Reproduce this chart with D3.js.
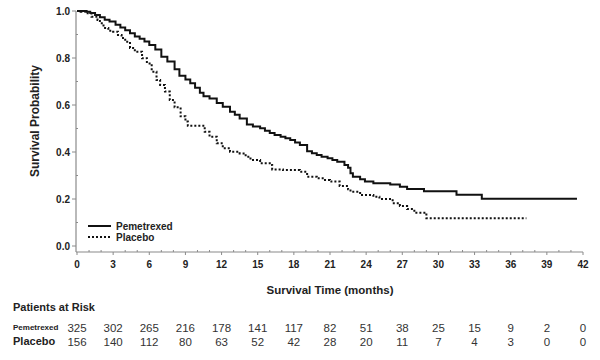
<!DOCTYPE html>
<html>
<head>
<meta charset="utf-8">
<script src="https://cdn.jsdelivr.net/npm/d3@7/dist/d3.min.js"></script>
<style>
  html, body { margin: 0; padding: 0; background: #fff; }
  svg { display: block; font-family: "Liberation Sans", Arial, sans-serif; }
</style>
</head>
<body>
<svg id="chart" width="600" height="360"></svg>
<script>
// ---- Data ----
const seriesNames = ["Pemetrexed", "Placebo"];

const pemTime = [0, 0.8, 1.1, 1.5, 1.9, 2.3, 2.7, 3.2, 3.6, 4.0, 4.4, 4.8, 5.2, 5.6, 6.0, 6.5, 7.0, 7.5, 8.1, 8.5, 9.0, 9.4, 9.8, 10.2, 10.5, 11.0, 11.6, 12.1, 12.7, 13.1, 13.5, 14.1, 14.6, 15.2, 15.6, 16.0, 16.4, 16.9, 17.3, 17.7, 18.1, 18.5, 19.1, 19.5, 19.9, 20.3, 20.8, 21.2, 21.6, 22.2, 22.5, 22.7, 22.9, 23.5, 23.9, 24.6, 26.0, 26.8, 27.4, 28.8, 31.5, 33.6, 41.5];
const pemSurv = [1.0, 0.997, 0.992, 0.983, 0.973, 0.963, 0.955, 0.942, 0.930, 0.918, 0.905, 0.892, 0.882, 0.870, 0.855, 0.836, 0.805, 0.785, 0.752, 0.725, 0.708, 0.693, 0.673, 0.652, 0.637, 0.628, 0.609, 0.593, 0.571, 0.558, 0.543, 0.517, 0.508, 0.501, 0.490, 0.481, 0.472, 0.465, 0.458, 0.451, 0.440, 0.430, 0.403, 0.395, 0.387, 0.380, 0.373, 0.366, 0.359, 0.345, 0.333, 0.310, 0.295, 0.284, 0.274, 0.267, 0.262, 0.252, 0.243, 0.233, 0.218, 0.201, 0.201];

const plaTime = [0, 0.3, 0.7, 1.2, 1.7, 1.9, 2.2, 2.6, 3.0, 3.4, 3.7, 4.0, 4.4, 4.8, 5.4, 5.8, 6.2, 6.6, 6.9, 7.3, 7.7, 8.1, 8.6, 9.0, 9.2, 10.2, 10.6, 11.0, 11.6, 12.1, 12.7, 13.5, 14.0, 14.4, 15.2, 16.0, 16.2, 17.1, 18.5, 19.1, 19.9, 20.5, 21.0, 21.8, 22.5, 22.7, 23.5, 24.6, 25.1, 26.2, 26.8, 27.4, 28.0, 29.0, 37.3];
const plaSurv = [1.0, 0.997, 0.990, 0.976, 0.962, 0.948, 0.928, 0.916, 0.912, 0.898, 0.885, 0.869, 0.843, 0.827, 0.799, 0.777, 0.742, 0.706, 0.685, 0.657, 0.621, 0.590, 0.552, 0.530, 0.512, 0.512, 0.486, 0.465, 0.437, 0.416, 0.401, 0.394, 0.380, 0.366, 0.352, 0.345, 0.326, 0.323, 0.316, 0.295, 0.288, 0.281, 0.274, 0.255, 0.241, 0.231, 0.217, 0.210, 0.200, 0.182, 0.170, 0.157, 0.142, 0.118, 0.118];

const xTicks = [0, 3, 6, 9, 12, 15, 18, 21, 24, 27, 30, 33, 36, 39, 42];
const xMinorTicks = [1, 2, 4, 5, 7, 8, 10, 11, 13, 14, 16, 17, 19, 20, 22, 23, 25, 26, 28, 29, 31, 32, 34, 35, 37, 38, 40, 41];
const yTicks = [0.0, 0.2, 0.4, 0.6, 0.8, 1.0];
const yMinorTicks = [0.1, 0.3, 0.5, 0.7, 0.9];

const pemRisk = [325, 302, 265, 216, 178, 141, 117, 82, 51, 38, 25, 15, 9, 2, 0];
const plaRisk = [156, 140, 112, 80, 63, 52, 42, 28, 20, 11, 7, 4, 3, 0, 0];

// ---- Layout ----
const svg = d3.select("#chart");
const x = d3.scaleLinear().domain([0, 42]).range([77, 583]);
const y = d3.scaleLinear().domain([0, 1]).range([246, 11]);
const axisColor = "#8a8a8a";
const axisY = 252;     // x-axis line position (offset below 0.0)
const axisX = 76;      // y-axis line position

const g = svg.append("g");

// y axis line
g.append("line").attr("x1", axisX).attr("x2", axisX).attr("y1", y(1)).attr("y2", axisY)
  .attr("stroke", axisColor).attr("stroke-width", 1.2);
// x axis line
g.append("line").attr("x1", axisX).attr("x2", x(42)).attr("y1", axisY).attr("y2", axisY)
  .attr("stroke", axisColor).attr("stroke-width", 1.2);

// y major ticks
g.selectAll(".ytick").data(yTicks).join("line")
  .attr("x1", axisX - 4).attr("x2", axisX)
  .attr("y1", d => y(d)).attr("y2", d => y(d))
  .attr("stroke", axisColor).attr("stroke-width", 1);
g.selectAll(".yminor").data(yMinorTicks).join("line")
  .attr("x1", axisX).attr("x2", axisX + 2)
  .attr("y1", d => y(d)).attr("y2", d => y(d))
  .attr("stroke", axisColor).attr("stroke-width", 1);
g.selectAll(".ylab").data(yTicks).join("text")
  .attr("x", 70).attr("y", d => y(d)).attr("dy", "0.36em")
  .attr("text-anchor", "end").attr("font-size", 10).attr("font-weight", "bold")
  .attr("fill", "#222")
  .text(d => d.toFixed(1));

// x ticks
g.selectAll(".xtick").data(xTicks).join("line")
  .attr("x1", d => x(d)).attr("x2", d => x(d))
  .attr("y1", axisY).attr("y2", axisY + 3)
  .attr("stroke", axisColor).attr("stroke-width", 1);
g.selectAll(".xminor").data(xMinorTicks).join("line")
  .attr("x1", d => x(d)).attr("x2", d => x(d))
  .attr("y1", axisY - 2).attr("y2", axisY)
  .attr("stroke", axisColor).attr("stroke-width", 1);
g.selectAll(".xlab").data(xTicks).join("text")
  .attr("x", d => x(d)).attr("y", 268)
  .attr("text-anchor", "middle").attr("font-size", 10).attr("font-weight", "bold")
  .attr("fill", "#222")
  .text(d => d);

// axis titles
svg.append("text").attr("x", (x(0) + x(42)) / 2).attr("y", 294)
  .attr("text-anchor", "middle").attr("font-size", 11.5).attr("font-weight", "bold")
  .attr("fill", "#222").text("Survival Time (months)");
svg.append("text").attr("transform", "translate(39,121) rotate(-90)")
  .attr("text-anchor", "middle").attr("font-size", 12).attr("font-weight", "bold")
  .attr("fill", "#222").text("Survival Probability");

// curves
const line = d3.line().curve(d3.curveStepAfter).x(d => x(d[0])).y(d => y(d[1]));
const pemData = pemTime.map((t, i) => [t, pemSurv[i]]);
const plaData = plaTime.map((t, i) => [t, plaSurv[i]]);

g.append("path").datum(plaData).attr("d", line)
  .attr("fill", "none").attr("stroke", "#111").attr("stroke-width", 2)
  .attr("stroke-dasharray", "2,2");
g.append("path").datum(pemData).attr("d", line)
  .attr("fill", "none").attr("stroke", "#111").attr("stroke-width", 2);

// legend
const legend = svg.append("g");
legend.append("line").attr("x1", 88).attr("x2", 111).attr("y1", 226).attr("y2", 226)
  .attr("stroke", "#111").attr("stroke-width", 2);
legend.append("text").attr("x", 116).attr("y", 229.5).attr("font-size", 10)
  .attr("font-weight", "bold").attr("fill", "#222").text(seriesNames[0]);
legend.append("line").attr("x1", 88).attr("x2", 111).attr("y1", 237).attr("y2", 237)
  .attr("stroke", "#111").attr("stroke-width", 2).attr("stroke-dasharray", "2,2");
legend.append("text").attr("x", 116).attr("y", 240.5).attr("font-size", 10)
  .attr("font-weight", "bold").attr("fill", "#222").text(seriesNames[1]);

// patients at risk
svg.append("text").attr("x", 13).attr("y", 311).attr("font-size", 11)
  .attr("font-weight", "bold").attr("fill", "#222").text("Patients at Risk");
svg.append("text").attr("x", 13).attr("y", 330).attr("font-size", 8)
  .attr("font-weight", "bold").attr("fill", "#222").text(seriesNames[0]);
svg.append("text").attr("x", 13).attr("y", 345).attr("font-size", 11)
  .attr("font-weight", "bold").attr("fill", "#222").text(seriesNames[1]);

svg.selectAll(".pemrisk").data(pemRisk).join("text")
  .attr("x", (d, i) => x(xTicks[i])).attr("y", 332)
  .attr("text-anchor", "middle").attr("font-size", 11.5).attr("fill", "#333")
  .text(d => d);
svg.selectAll(".plarisk").data(plaRisk).join("text")
  .attr("x", (d, i) => x(xTicks[i])).attr("y", 345.5)
  .attr("text-anchor", "middle").attr("font-size", 11.5).attr("fill", "#333")
  .text(d => d);
</script>
</body>
</html>
